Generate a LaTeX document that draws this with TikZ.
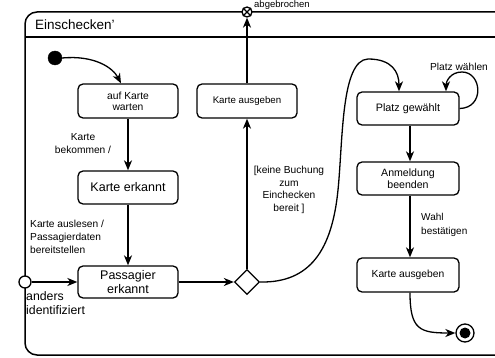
\documentclass[tikz,border=0pt]{standalone}
\usepackage{fontspec}
\setmainfont{Liberation Sans}
\usetikzlibrary{positioning}
\usetikzlibrary{shapes.geometric}
\usetikzlibrary{arrows.meta}
\tikzset{
	every node/.style = {font=\fontsize{10.3}{11.3}\selectfont, align=center},
	zustand/.style = {draw, line width=1.3pt, rounded corners=5pt, minimum width=100pt, minimum height=33pt, inner sep=1pt},
	pfeil/.style = {-{Stealth[length=10pt,width=8pt,inset=3pt]}, line width=1.3pt},
	beschr/.style = {font=\fontsize{10.2}{12.7}\selectfont, inner sep=0pt}
}

\begin{document}
\begin{tikzpicture}[x=1pt,y=-1pt]
		\useasboundingbox (0,0) rectangle (495,358);
		\clip (0,0) rectangle (495,358);
		% frame
		\draw[line width=1.5pt, rounded corners=12pt] (520,12) -- (25,12) -- (25,355) -- (520,355);
		\draw[line width=1.5pt] (25,37) -- (520,37);
		\node[anchor=west, inner sep=0pt, font=\fontsize{13.5}{15}\selectfont] (titel) at (35,25) {Einschecken'};
		
		% states
		\node[draw, circle, fill=black, minimum size=14pt, inner sep=0pt] (start) at (55,58) {};
		\node[zustand, minimum height=34pt] (warten) at (128,101) {auf Karte\\warten};
		\node[zustand, font=\fontsize{12.5}{14}\selectfont] (erkannt) at (128,187.5) {Karte erkannt};
		\node[zustand, minimum height=32pt, font=\fontsize{12.5}{14}\selectfont] (passagier) at (128,282) {Passagier\\erkannt};
		\node[zustand, minimum height=34pt, font=\fontsize{9.7}{11}\selectfont] (ausgeben) at (247,101) {Karte ausgeben};
		\node[zustand, minimum width=102pt, font=\fontsize{10.8}{12}\selectfont] (gewaehlt) at (408,108.5) {Platz gewählt};
		\node[zustand, minimum width=102pt, font=\fontsize{10.6}{11.5}\selectfont] (beenden) at (408,178.5) {Anmeldung\\beenden};
		\node[zustand, minimum width=102pt, minimum height=34pt] (ausgeben2) at (408,275) {Karte ausgeben};
		\node[draw, diamond, fill=white, line width=1.3pt, minimum size=25pt, inner sep=0pt] (wahl) at (247,282) {};
		\node[draw, circle, fill=white, line width=1.3pt, minimum size=12pt, inner sep=0pt] (eingang) at (25,282) {};
		\node[draw, circle, fill=white, line width=1.3pt, minimum size=10pt, inner sep=0pt] (abbruch) at (247,12) {};
		\draw[line width=1.3pt] (abbruch.north west) -- (abbruch.south east);
		\draw[line width=1.3pt] (abbruch.north east) -- (abbruch.south west);
		\node[draw, circle, line width=1.3pt, minimum size=18pt, inner sep=0pt] (ende) at (465,333) {};
		\node[circle, fill=black, minimum size=11pt, inner sep=0pt] (endepunkt) at (ende) {};
		
		% transitions
		\draw[pfeil] (start.east) .. controls (95,55) and (113,68) .. ([xshift=-7pt]warten.north);
		\draw[pfeil] (warten) -- (erkannt);
		\draw[pfeil] (erkannt) -- (passagier);
		\draw[pfeil] (eingang) -- (passagier);
		\draw[pfeil] (passagier) -- (wahl);
		\draw[pfeil] (wahl) -- (ausgeben);
		\draw[pfeil] (ausgeben) -- (abbruch);
		\draw[pfeil] (wahl.east) .. controls (310,283) and (332,250) .. (338,190)
			.. controls (343,140) and (341,60) .. (368,59)
			.. controls (392,59) and (399,72) .. ([xshift=-9pt]gewaehlt.north);
		\draw[pfeil] (gewaehlt.east) .. controls (485,108) and (482,72) .. (462,72)
			.. controls (450,72) and (446,82) .. ([xshift=38pt]gewaehlt.north);
		\draw[pfeil] ([xshift=2pt]gewaehlt.south) -- ([xshift=2pt]beenden.north);
		\draw[pfeil] ([xshift=2pt]beenden.south) -- ([xshift=2pt]ausgeben2.north);
		\draw[pfeil] ([xshift=2pt]ausgeben2.south) .. controls (410,330) and (420,333) .. (ende.west);
		
		% labels
		\node[anchor=west, font=\fontsize{9.5}{10}\selectfont, inner sep=0pt] (abgebrochen) at (254,5) {abgebrochen};
		\node[beschr, font=\fontsize{10.2}{13}\selectfont] (bekommen) at (83,143.5) {Karte\\bekommen /};
		\node[beschr, anchor=west, align=left] (auslesen) at (30,237) {Karte auslesen /\\Passagierdaten\\bereitstellen};
		\node[anchor=west, align=left, inner sep=0pt, font=\fontsize{12.3}{13.5}\selectfont] (anders) at (26,303) {anders\\identifiziert};
		\node[beschr] (keine) at (289,190) {[keine Buchung\\zum\\Einchecken\\bereit ]};
		\node[beschr, anchor=west, align=left, font=\fontsize{10}{14}\selectfont] (bestaetigen) at (421,225) {Wahl\\bestätigen};
		\node[beschr] (platzwahl) at (459,67) {Platz wählen};
	\end{tikzpicture}
\end{document}
